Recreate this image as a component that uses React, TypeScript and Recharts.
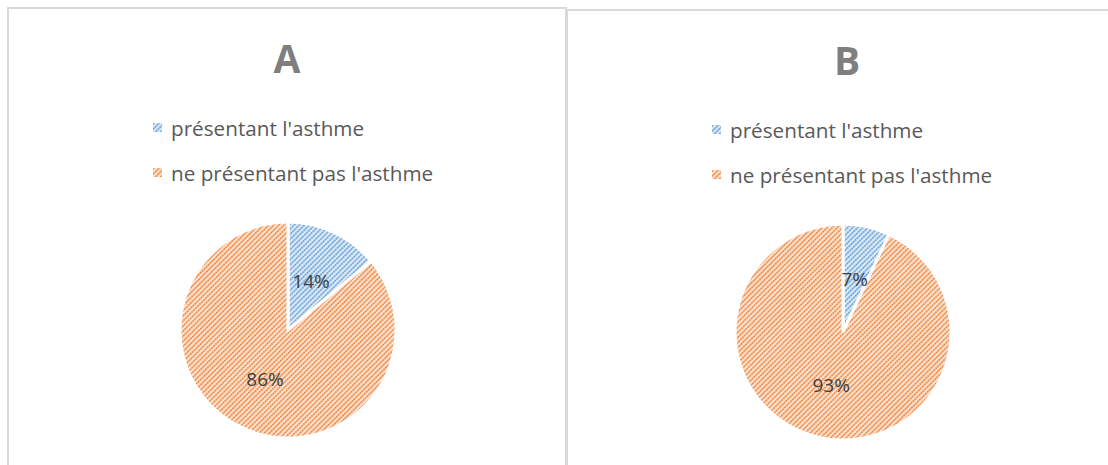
import { Cell, Pie, PieChart } from 'recharts';

const CATEGORIES = ["présentant l'asthme", "ne présentant pas l'asthme"];
const VALUES_A = [14, 86];
const VALUES_B = [7, 93];
const TITLES = ['A', 'B'];

const FONT = '"Open Sans", Lato, sans-serif';
const RAD = Math.PI / 180;

const PATTERNS = [
  { id: 'hatch-blue', bg: '#dde9f6', mid: '#a3c6e9', line: '#5b9bd5' },
  { id: 'hatch-orange', bg: '#fde3d1', mid: '#f6b285', line: '#ed7d31' },
];

function Patterns() {
  return (
    <svg width={0} height={0} style={{ position: 'absolute' }}>
      <defs>
        {PATTERNS.map((p) => (
          <pattern
            key={p.id}
            id={p.id}
            width={3.6}
            height={2.8}
            patternUnits="userSpaceOnUse"
            patternTransform="rotate(45)"
          >
            <rect width={3.6} height={2.8} fill={p.bg} />
            <line x1={0.8} y1={0} x2={0.8} y2={2.8} stroke={p.mid} strokeWidth={1.5} />
            <line x1={0.8} y1={0} x2={0.8} y2={2.8} stroke={p.line} strokeWidth={1.5} strokeDasharray="1.4 1.4" />
          </pattern>
        ))}
      </defs>
    </svg>
  );
}

function renderLabel(props: any) {
  const { cx, cy, midAngle, outerRadius, value } = props;
  const r = outerRadius * 0.5;
  const x = cx + r * Math.cos(-midAngle * RAD);
  const y = cy + r * Math.sin(-midAngle * RAD);
  return (
    <text
      x={x}
      y={y}
      textAnchor="middle"
      dominantBaseline="central"
      fill="#404040"
      fontSize={19}
      fontFamily={FONT}
    >
      {`${value}%`}
    </text>
  );
}

function LegendBox({ left, top }: { left: number; top: number }) {
  return (
    <div
      style={{
        position: 'absolute',
        left,
        top,
        fontFamily: FONT,
        fontSize: 20.7,
        color: '#595959',
        whiteSpace: 'nowrap',
      }}
    >
      {CATEGORIES.map((name, i) => (
        <div key={name} style={{ display: 'flex', alignItems: 'center', height: 45 }}>
          <svg width={9} height={9} style={{ marginRight: 9 }}>
            <rect width={9} height={9} fill={`url(#${PATTERNS[i].id})`} />
          </svg>
          <span>{name}</span>
        </div>
      ))}
    </div>
  );
}

function Panel({
  title,
  values,
  left,
  top,
  cx,
  cy,
  radius,
  legendLeft,
  titleX,
}: {
  title: string;
  values: number[];
  left: number;
  top: number;
  cx: number;
  cy: number;
  radius: number;
  legendLeft: number;
  titleX: number;
}) {
  const data = CATEGORIES.map((name, i) => ({ name, value: values[i] }));
  const width = 560;
  const height = 470;
  return (
    <div
      style={{
        position: 'absolute',
        left,
        top,
        width,
        height,
        borderTop: '2px solid #d9d9d9',
        borderLeft: '2px solid #d9d9d9',
        borderRight: '2px solid #d9d9d9',
        background: '#fff',
        boxSizing: 'border-box',
      }}
    >
      <div
        style={{
          position: 'absolute',
          left: titleX - 40,
          width: 80,
          top: 22,
          textAlign: 'center',
          fontFamily: FONT,
          fontWeight: 700,
          fontSize: 39,
          color: '#7f7f7f',
        }}
      >
        {title}
      </div>
      <LegendBox left={legendLeft} top={96} />
      <div style={{ position: 'absolute', left: -2, top: -2 }}>
        <PieChart width={width} height={height} margin={{ top: 0, right: 0, bottom: 0, left: 0 }}>
          <Pie
            data={data}
            dataKey="value"
            nameKey="name"
            cx={cx}
            cy={cy}
            outerRadius={radius}
            startAngle={90}
            endAngle={-270}
            stroke="#ffffff"
            strokeWidth={3}
            label={renderLabel}
            labelLine={false}
            isAnimationActive={false}
          >
            {data.map((_, i) => (
              <Cell key={i} fill={`url(#${PATTERNS[i].id})`} />
            ))}
          </Pie>
        </PieChart>
      </div>
    </div>
  );
}

export default function App() {
  return (
    <div
      style={{
        position: 'absolute',
        left: 0,
        top: 0,
        width: 1108,
        height: 465,
        overflow: 'hidden',
        background: '#ffffff',
      }}
    >
      <Patterns />
      <Panel
        title={TITLES[0]}
        values={VALUES_A}
        left={7}
        top={7}
        cx={281}
        cy={323}
        radius={108}
        legendLeft={144}
        titleX={278}
      />
      <Panel
        title={TITLES[1]}
        values={VALUES_B}
        left={566}
        top={9}
        cx={277}
        cy={323}
        radius={108}
        legendLeft={144}
        titleX={279}
      />
    </div>
  );
}
